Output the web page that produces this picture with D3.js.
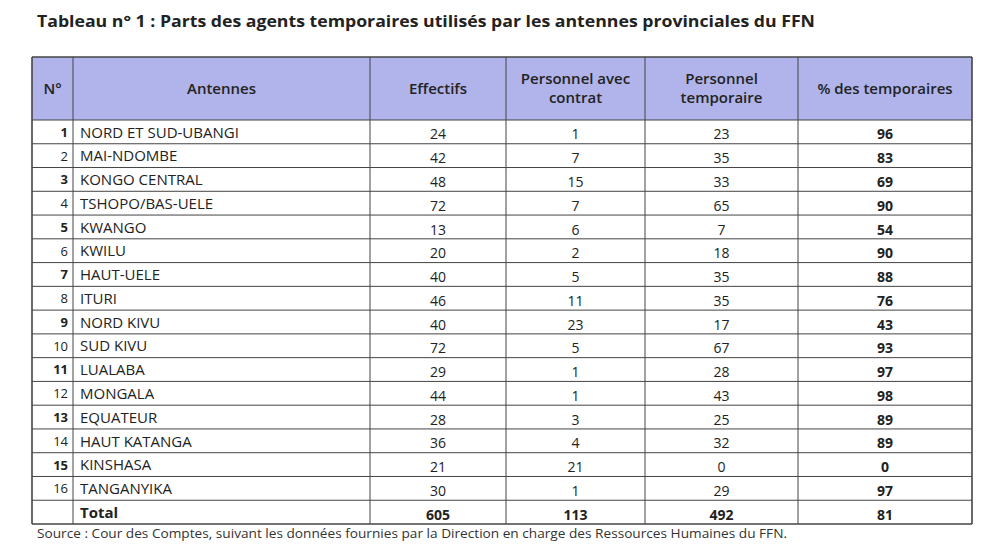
<!DOCTYPE html>
<html>
<head>
<meta charset="utf-8">
<script src="https://cdn.jsdelivr.net/npm/d3@7"></script>
<style>
body { margin: 0; background: #fff; }
svg { font-family: "Open Sans", sans-serif; }
</style>
</head>
<body>
<div id="tableArea"></div>
<script>
var svgWidth = 1000, svgHeight = 556;

// data
var numeros = ["1","2","3","4","5","6","7","8","9","10","11","12","13","14","15","16"];
var antennes = ["NORD ET SUD-UBANGI","MAI-NDOMBE","KONGO CENTRAL","TSHOPO/BAS-UELE","KWANGO","KWILU","HAUT-UELE","ITURI","NORD KIVU","SUD KIVU","LUALABA","MONGALA","EQUATEUR","HAUT KATANGA","KINSHASA","TANGANYIKA"];
var effectifs = [24,42,48,72,13,20,40,46,40,72,29,44,28,36,21,30];
var contrat = [1,7,15,7,6,2,5,11,23,5,1,1,3,4,21,1];
var temporaire = [23,35,33,65,7,18,35,35,17,67,28,43,25,32,0,29];
var pctTemp = [96,83,69,90,54,90,88,76,43,93,97,98,89,89,0,97];
var totals = ["Total", 605, 113, 492, 81];
var headers = [["N°"],["Antennes"],["Effectifs"],["Personnel avec","contrat"],["Personnel","temporaire"],["% des temporaires"]];
var colWidths = [41, 297, 136, 139, 153, 174];

var svg = d3.select("#tableArea").append("svg").attr("width", svgWidth).attr("height", svgHeight);

// column positions
var colEdges = [32];
colWidths.forEach(function(w, i) { colEdges.push(colEdges[i] + w); });
var x = d3.scaleOrdinal().domain(d3.range(6)).range(colEdges.slice(0, 6));

var rowKeys = numeros.concat(["total"]);
var y = d3.scaleBand().domain(rowKeys).range([120, 524]);
var headTop = 57, headBottom = 120;

// title
svg.append("text")
    .attr("x", 37).attr("y", 27)
    .attr("font-size", 16.5).attr("font-weight", 700).attr("fill", "#222")
    .attr("textLength", 778).attr("lengthAdjust", "spacingAndGlyphs")
    .text("Tableau n° 1 : Parts des agents temporaires utilisés par les antennes provinciales du FFN");

// header background
svg.append("rect")
    .attr("x", colEdges[0]).attr("y", headTop)
    .attr("width", colEdges[6] - colEdges[0]).attr("height", headBottom - headTop)
    .attr("fill", "#b0b4ea");

// header text
headers.forEach(function(lines, i) {
    var cx = x(i) + colWidths[i] / 2;
    var cy = (headTop + headBottom) / 2;
    lines.forEach(function(line, k) {
        svg.append("text")
            .attr("x", cx)
            .attr("y", cy + (k - (lines.length - 1) / 2) * 19)
            .attr("dy", ".35em")
            .attr("text-anchor", "middle")
            .attr("font-size", 15).attr("font-weight", 600).attr("fill", "#222")
            .text(line);
    });
});

// body rows
numeros.forEach(function(n, i) {
    var yy = y(n) + y.bandwidth() / 2;
    svg.append("text")
        .attr("x", x(1) - 5).attr("y", yy).attr("dy", ".38em")
        .attr("text-anchor", "end").attr("font-size", 13)
        .attr("font-weight", i % 2 == 0 ? 700 : 400).attr("fill", "#222")
        .text(n);
    svg.append("text")
        .attr("x", x(1) + 7).attr("y", yy).attr("dy", ".38em")
        .attr("font-size", 15).attr("fill", "#222")
        .text(antennes[i]);
    var vals = [effectifs[i], contrat[i], temporaire[i], pctTemp[i]];
    vals.forEach(function(v, j) {
        svg.append("text")
            .attr("x", x(j + 2) + colWidths[j + 2] / 2).attr("y", yy + 2).attr("dy", ".4em")
            .attr("text-anchor", "middle").attr("font-size", 14)
            .attr("font-weight", j == 3 ? 700 : 400).attr("fill", "#222")
            .text(v);
    });
});

// total row
var ty = y("total") + y.bandwidth() / 2;
svg.append("text")
    .attr("x", x(1) + 7).attr("y", ty).attr("dy", ".38em")
    .attr("font-size", 15).attr("font-weight", 700).attr("fill", "#222")
    .text(totals[0]);
totals.slice(1).forEach(function(v, j) {
    svg.append("text")
        .attr("x", x(j + 2) + colWidths[j + 2] / 2).attr("y", ty + 2).attr("dy", ".4em")
        .attr("text-anchor", "middle").attr("font-size", 14)
        .attr("font-weight", 700).attr("fill", "#222")
        .text(v);
});

// grid lines
var hLines = [headTop, headBottom].concat(rowKeys.slice(1).map(function(k) { return y(k); })).concat([524]);
hLines.forEach(function(h, i) {
    svg.append("line")
        .attr("x1", colEdges[0]).attr("x2", colEdges[6])
        .attr("y1", h).attr("y2", h)
        .attr("stroke", "#444").attr("stroke-width", (i == 0 || i == hLines.length - 1) ? 1.6 : 1);
});
colEdges.forEach(function(c, i) {
    svg.append("line")
        .attr("x1", c).attr("x2", c)
        .attr("y1", headTop).attr("y2", 524)
        .attr("stroke", "#444").attr("stroke-width", (i == 0 || i == 6) ? 1.6 : 1);
});

// source
svg.append("text")
    .attr("x", 37).attr("y", 538)
    .attr("font-size", 12.5).attr("fill", "#333")
    .attr("textLength", 750).attr("lengthAdjust", "spacingAndGlyphs")
    .text("Source : Cour des Comptes, suivant les données fournies par la Direction en charge des Ressources Humaines du FFN.");
</script>
</body>
</html>
